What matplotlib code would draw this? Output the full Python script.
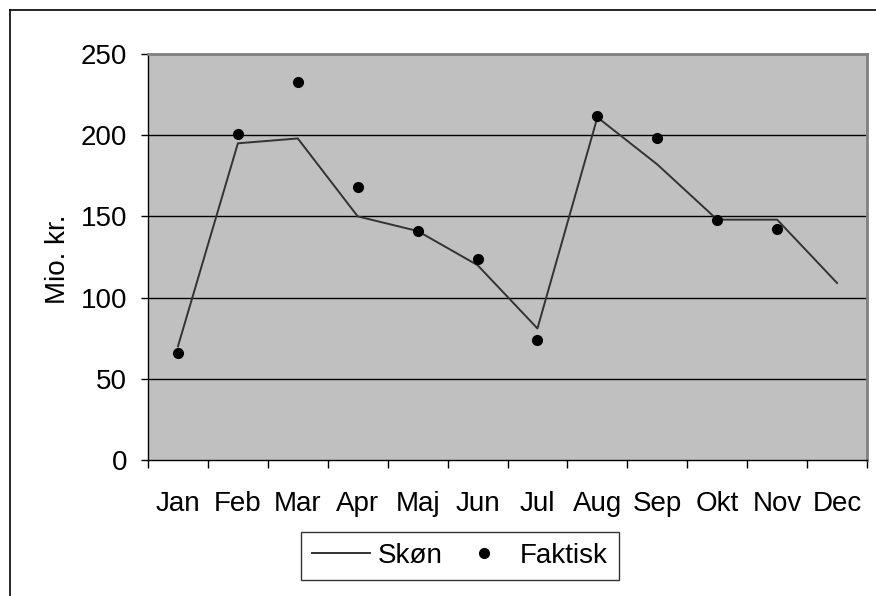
import numpy as np
import matplotlib
matplotlib.use("Agg")
import matplotlib.pyplot as plt
from matplotlib.lines import Line2D

plt.rcParams['font.family'] = ['Liberation Sans', 'DejaVu Sans']

months = ["Jan", "Feb", "Mar", "Apr", "Maj", "Jun", "Jul", "Aug", "Sep", "Okt", "Nov", "Dec"]
skon = [70, 195, 198, 150, 141, 120, 81, 211, 182, 148, 148, 109]
faktisk = [66, 201, 233, 168, 141, 124, 74, 212, 198, 148, 142, np.nan]
yticks = [0, 50, 100, 150, 200, 250]

FS = 20

fig = plt.figure(figsize=(8.76, 5.96), dpi=100)
ax = fig.add_axes([148/876, 1-460/596, (867-148)/876, (460-54)/596])
ax.set_facecolor("#C0C0C0")

x = np.arange(len(months)) + 0.5
ax.plot(x, skon, color="#333333", lw=1.4, zorder=3)
ax.plot(x, faktisk, 'o', color="black", ms=7, zorder=4, linestyle='none')

ax.set_xlim(0, 12)
ax.set_ylim(0, 250)
ax.set_yticks(yticks)
ax.set_yticklabels([str(v) for v in yticks])
for v in yticks[1:-1]:
    ax.axhline(v, color="black", lw=1.0, zorder=1)

ax.set_xticks(np.arange(0, 13))
ax.set_xticklabels([])
ax.set_xticks(x, minor=True)
ax.set_xticklabels(months, minor=True)
ax.tick_params(axis='x', which='major', direction='out', length=6, width=1, color='black')
ax.tick_params(axis='x', which='minor', length=0, pad=22, labelsize=FS)
ax.tick_params(axis='y', direction='out', length=5, width=1, pad=10, labelsize=FS)

for s in ['top', 'right']:
    ax.spines[s].set_color("#808080")
    ax.spines[s].set_linewidth(2)
for s in ['left', 'bottom']:
    ax.spines[s].set_color("black")
    ax.spines[s].set_linewidth(1)

fig.text(58/876, 1-259/596, "Mio. kr.", rotation=90, ha='center', va='center', fontsize=FS)

handles = [Line2D([0], [0], color="#333333", lw=1.4),
           Line2D([0], [0], marker='o', color='black', ms=7, linestyle='none')]
leg = fig.legend(handles, ["Skøn", "Faktisk"], loc='center', bbox_to_anchor=(460/876, 1-556/596),
                 ncol=2, frameon=True, fancybox=False, fontsize=FS, handlelength=2.1,
                 columnspacing=0.45, borderpad=0.38, handletextpad=0.25)
leg.get_frame().set_edgecolor('black')
leg.get_frame().set_linewidth(1)

# outer chart border (left and top visible)
fig.add_artist(Line2D([9.5/876, 9.5/876], [0, 1-10/596], transform=fig.transFigure, color='black', lw=1.2))
fig.add_artist(Line2D([9.5/876, 1], [1-10/596, 1-10/596], transform=fig.transFigure, color='black', lw=1.2))

fig.savefig("out.png", dpi=100)
